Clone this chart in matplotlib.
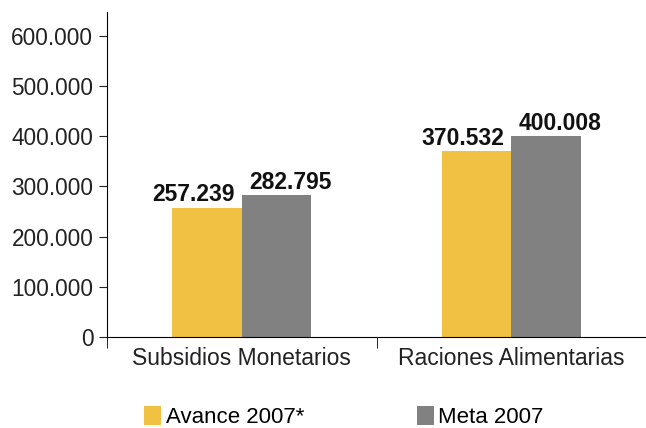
import matplotlib
matplotlib.use("Agg")
import matplotlib.pyplot as plt
import numpy as np
from matplotlib.ticker import FuncFormatter, FixedLocator

plt.rcParams['font.family'] = ['Liberation Sans', 'DejaVu Sans']

categories = ["Subsidios Monetarios", "Raciones Alimentarias"]
avance = [257239, 370532]
meta = [282795, 400008]
series_names = ["Avance 2007*", "Meta 2007"]
colors = ["#F0C142", "#818182"]

fig = plt.figure(figsize=(6.46, 4.28), dpi=100)
ax = fig.add_axes([0.166, 0.213, 0.834, 0.759])

x = np.arange(len(categories))
w = 0.258
b1 = ax.bar(x - w/2, avance, w, color=colors[0], label=series_names[0])
b2 = ax.bar(x + w/2, meta, w, color=colors[1], label=series_names[1])

def fmt(v, pos=None):
    return f"{int(v):,}".replace(",", ".")

for bars, dx in ((b1, -10), (b2, 10)):
    for r in bars:
        ax.annotate(fmt(r.get_height()), (r.get_x() + r.get_width()/2, r.get_height()),
                    xytext=(dx, 1), textcoords="offset points", ha="center", va="bottom",
                    fontsize=16.5, fontweight="bold", color="#111111")

ax.set_xlim(-0.5, 1.5)
ax.set_ylim(0, 648000)
ax.set_yticks(np.arange(0, 600001, 100000))
ax.yaxis.set_major_formatter(FuncFormatter(fmt))
ax.tick_params(axis="y", labelsize=16.3, length=6, direction="out", colors="#222222", pad=4)

ax.set_xticks(x)
ax.set_xticklabels(categories)
ax.tick_params(axis="x", which="major", length=0, labelsize=16.5, colors="#222222", pad=7)
ax.xaxis.set_minor_locator(FixedLocator([-0.5, 0.5, 1.5]))
ax.tick_params(axis="x", which="minor", length=8, direction="out")

for s in ("top", "right"):
    ax.spines[s].set_visible(False)

fig.legend(handles=[b1, b2], labels=series_names, loc="lower left", bbox_to_anchor=(0.203, -0.032),
           ncol=2, frameon=False, fontsize=16, handlelength=0.75, handleheight=0.9,
           handletextpad=0.2, columnspacing=5.1, borderaxespad=0.2)

fig.savefig("out.png", dpi=100)
